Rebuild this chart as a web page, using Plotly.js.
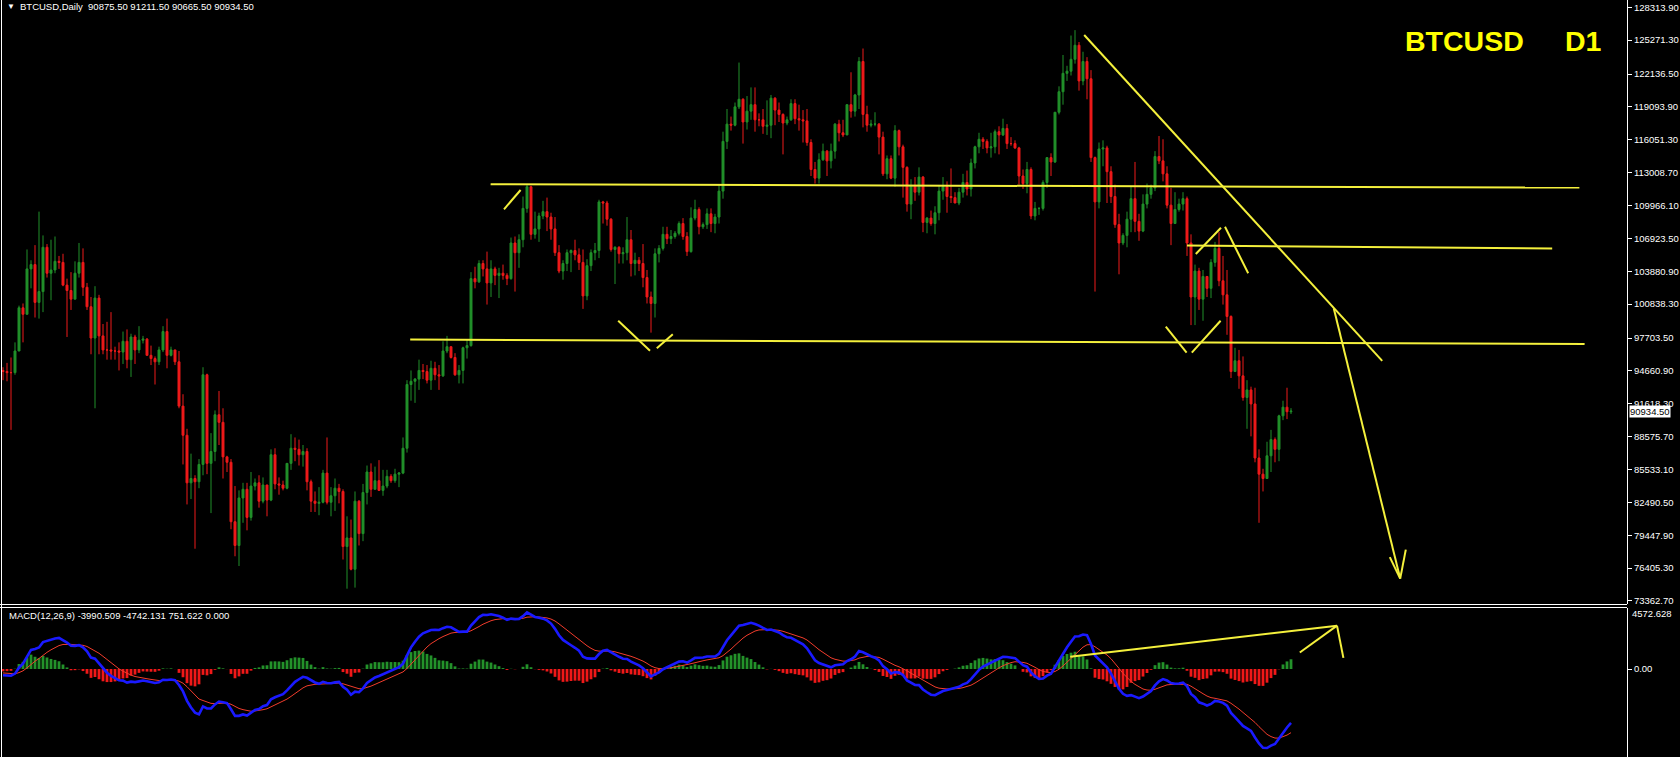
<!DOCTYPE html>
<html><head><meta charset="utf-8">
<script src="https://cdn.plot.ly/plotly-3.0.1.min.js"></script>
<style>html,body{margin:0;padding:0;background:#000;overflow:hidden}#chart{width:1680px;height:757px}</style>
</head><body><div id="chart"></div>
<script>
// ---------------- DATA (BTCUSD, Daily) ----------------
const symbol = 'BTCUSD';
const timeframe = 'D1';
const firstDay = Date.UTC(2025, 0, 11);   // first candle on the chart

const open = [
 94700,94600,94500,94500,96500,100500,99900,104100,104500,101000,102000,106100,103700,104000,104800,104700,102600,102100,101300,103700,104700,
 102400,100600,97700,101400,97900,96600,96600,96500,96500,96400,97400,95700,97800,96600,97500,97600,96100,95800,95500,96600,98300,96100,96600,95500,91400,88700,84300,84700,
 84400,86000,94300,86100,87200,90600,89900,86700,86200,80700,78500,82900,83700,81100,84000,84300,82600,84100,82700,86900,84200,84100,83800,86100,87500,87400,86900,87200,84400,82600,82400,
 82500,85200,82500,83100,83800,83500,78400,79200,76300,82600,79600,83400,85300,83700,84500,83600,84000,84900,84500,85100,85200,87500,93400,93700,93900,94700,94600,93800,94900,94300,
 94200,96500,96900,95900,94300,94700,96800,97000,103200,102900,104600,104100,102800,104100,103500,103700,103500,103200,106500,105600,106800,109700,111700,107300,107800,109000,109400,108900,107800,105600,103900,
 104600,105600,105800,105400,104700,101600,104400,105600,105800,110300,110200,108700,105900,106100,105500,105600,106800,104600,104900,104600,103300,101500,100900,105500,106000,107300,106900,107100,107400,108300,
 107100,105700,108800,109600,108000,108200,109200,108300,108900,111300,115900,117500,117400,119100,119800,117700,118700,119300,117900,117900,117300,117400,119900,118800,118400,117600,117900,119400,118000,117900,117800,
 115800,113300,112500,114200,115000,114100,115000,117500,116700,116500,119300,118700,120200,123300,118400,117400,117500,117500,116300,112900,114300,112500,116900,115400,113500,110100,111800,111200,112600,108400,108800,
 108300,109300,111300,111700,110800,110700,110200,111200,112100,111500,113900,115400,116100,115900,115300,115400,116800,116500,117100,115700,115700,115300,112700,112000,113300,109000,109700,109700,112100,114400,
 114000,118600,120500,122200,122400,123500,124800,121500,123300,121700,114400,110300,115200,115300,113100,110800,108200,106500,107200,108700,110600,108500,107600,110100,111000,111600,114500,114100,112900,110000,108300,
 109600,110100,110600,106500,101500,103900,101300,103400,102300,104700,106000,103000,101700,99700,94600,95600,94200,92200,92900,91600,86600,85100,84700,86800,88300,87400,90500,91300,90875.5
];
const high = [
 95000,95400,95900,97300,100700,100900,105900,104900,106300,109400,107200,106400,106800,107100,105300,105500,103200,103800,104800,106500,106000,
 102800,101500,102500,101700,99000,99200,100100,96900,97300,98300,98500,98100,98000,98800,97900,97700,97000,96000,96900,98800,99500,96900,96600,96500,92500,89300,87000,85000,
 86500,95000,94400,88900,91000,92800,91200,86800,86500,84000,83600,84300,84300,85300,84700,85000,84800,84100,87400,87500,84800,84500,86100,88800,88500,88300,87800,87500,84600,83500,83900,
 85500,88500,83900,84700,84200,83700,81200,80900,83500,82700,84200,85900,86100,85800,86400,85500,85500,85100,85600,85300,88500,93800,94700,94000,95700,95300,95200,95600,95500,95200,
 97400,97900,96900,96300,95200,96900,97600,103800,104300,104900,104900,105700,104900,104300,104200,104500,103700,107000,107100,107300,110800,111900,111800,109400,109300,110400,110700,109300,108900,106300,104900,
 105900,105900,106800,106000,105900,105000,105900,106500,110500,110400,110400,108800,106200,106200,106100,108900,107700,105600,105200,106400,104000,102000,106000,106300,108000,108000,107700,107600,108500,108800,
 107500,109800,110500,109800,108400,109700,109700,109200,111900,116800,118900,118200,119500,123200,119900,120100,120900,120900,118500,118900,119700,120200,120000,119500,118500,118200,119800,119800,119300,118800,118900,
 116100,114000,114800,115700,115100,115700,117600,117900,117900,119300,122300,120300,123700,124500,119200,117900,118600,117600,116800,114600,114600,117400,117000,115600,113600,112400,112600,113500,112700,108900,109500,
 109900,111800,112600,112200,113400,111200,111600,112900,113200,114300,115500,116700,116300,116100,116700,117000,117300,118000,117500,116300,116000,115400,113300,114000,113500,110300,109800,112300,114400,114800,
 118600,121000,123900,122900,125700,126200,125100,124200,123700,122500,114500,115800,116000,115500,113600,111900,109200,107400,109400,111700,114000,109200,111000,112000,111900,115000,116400,116100,113600,111600,111200,
 110600,111200,110800,107300,104500,104200,104000,103400,105000,106600,107500,105300,104000,99800,96800,96600,96000,93800,93200,93100,87400,85600,88100,89200,88500,90600,91900,93100,91211.5
];
const low = [
 93800,93700,89200,94300,96500,97300,99900,102300,99600,99500,100100,103300,101200,103700,104100,102500,97800,100300,101300,103300,101600,
 100300,96200,91200,96200,96200,95700,95700,95700,94700,95300,94900,94100,95300,96300,97200,96100,95200,93400,95200,96400,94900,96000,95200,91200,86000,82300,82800,78200,
 83800,85000,85100,81500,86300,87800,84700,85300,80000,77500,76600,80600,79900,80800,83600,82000,82400,81200,82600,83700,83200,83600,83700,85500,86300,85900,85800,83600,81600,81600,81300,
 82400,82300,81200,81700,82400,77200,74500,76200,74600,78500,78900,82300,83000,83700,83600,83100,83800,84300,84300,83900,85100,87100,91900,91700,92900,93900,93500,92900,93800,92900,
 94100,96300,95800,94200,93500,93500,95800,96900,102300,102800,103400,100800,101500,102600,101400,103100,102600,103100,102000,104200,106100,109300,106800,106900,106600,108700,107600,106800,105300,103700,103100,
 103900,103800,104900,104000,100400,101200,103900,104900,105100,108300,108100,105700,102700,104600,104600,104900,103400,103500,103900,102400,100900,98200,99600,104700,105800,106400,106400,106900,107200,106800,
 105300,105600,108600,107300,107800,107800,107500,107400,108300,110600,115200,116900,117300,118900,115700,117000,117900,116800,117300,116600,116500,116200,117400,117700,114700,117400,117800,117500,116900,115800,115500,
 112700,112000,112000,114100,112700,113400,114300,115900,116300,116500,118100,118200,118900,117200,116800,117200,117300,114700,112700,112400,112400,111700,114600,110700,109400,108700,110400,110900,107500,107400,108100,
 107300,108600,110500,109300,110200,110200,110000,110700,110900,110800,113400,114800,115200,114800,114400,114800,114700,116400,115200,115500,115200,111900,111500,111100,108700,108600,109100,109500,111600,112700,
 113900,118400,119300,121500,122000,123100,120600,121100,119800,114000,102000,109700,113600,110200,110200,107900,103600,106300,106100,107500,107500,106700,107500,109700,110600,111300,113800,112200,109700,106300,108300,
 109400,109500,105300,98900,98900,100300,99300,101500,101400,104300,102500,100800,98000,94000,94600,93000,91900,89300,88600,86200,80600,83500,84700,85300,86200,86300,90100,90200,90665.5
];
const close = [
 94600,94500,94500,96500,100500,99900,104100,104500,101000,102000,106100,103700,104000,104800,104700,102600,102100,101300,103700,104700,102400,
 100600,97700,101400,97900,96600,96600,96500,96500,96400,97400,95700,97800,96600,97500,97600,96100,95800,95500,96600,98300,96100,96600,95500,91400,88700,84300,84700,84400,
 86000,94300,86100,87200,90600,89900,86700,86200,80700,78500,82900,83700,81100,84000,84300,82600,84100,82700,86900,84200,84100,83800,86100,87500,87400,86900,87200,84400,82600,82400,82500,
 85200,82500,83100,83800,83500,78400,79200,76300,82600,79600,83400,85300,83700,84500,83600,84000,84900,84500,85100,85200,87500,93400,93700,93900,94700,94600,93800,94900,94300,94200,
 96500,96900,95900,94300,94700,96800,97000,103200,102900,104600,104100,102800,104100,103500,103700,103500,103200,106500,105600,106800,109700,111700,107300,107800,109000,109400,108900,107800,105600,103900,104600,
 105600,105800,105400,104700,101600,104400,105600,105800,110300,110200,108700,105900,106100,105500,105600,106800,104600,104900,104600,103300,101500,100900,105500,106000,107300,106900,107100,107400,108300,107100,
 105700,108800,109600,108000,108200,109200,108300,108900,111300,115900,117500,117400,119100,119800,117700,118700,119300,117900,117900,117300,117400,119900,118800,118400,117600,117900,119400,118000,117900,117800,115800,
 113300,112500,114200,115000,114100,115000,117500,116700,116500,119300,118700,120200,123300,118400,117400,117500,117500,116300,112900,114300,112500,116900,115400,113500,110100,111800,111200,112600,108400,108800,108300,
 109300,111300,111700,110800,110700,110200,111200,112100,111500,113900,115400,116100,115900,115300,115400,116800,116500,117100,115700,115700,115300,112700,112000,113300,109000,109700,109700,112100,114400,114000,
 118600,120500,122200,122400,123500,124800,121500,123300,121700,114400,110300,115200,115300,113100,110800,108200,106500,107200,108700,110600,108500,107600,110100,111000,111600,114500,114100,112900,110000,108300,109600,
 110100,110600,106500,101500,103900,101300,103400,102300,104700,106000,103000,101700,99700,94600,95600,94200,92200,92900,91600,86600,85100,84700,86800,88300,87400,90500,91300,90880,90934.5
];

// right price scale labels
const priceTicks = [128313.90,125271.30,122136.50,119093.90,116051.30,113008.70,109966.10,106923.50,103880.90,100838.30,97703.50,94660.90,91618.30,88575.70,85533.10,82490.50,79447.90,76405.30,73362.70];
const macdTopLabel = 4572.628;
const macdParams = {fast: 12, slow: 26, signal: 9};
// indicator readout printed in the sub-window header (main, signal, histogram, level)
const macdReadout = [-3990.509, -4742.131, 751.622, 0.000];
// indicator state at the first visible bar
const macdStart = {fastEma: 95300, slowEma: 95750, signal: -250};

// hand drawn objects: [bar index, price]
const priceDrawings = [
  [[121.9,111930],[394.1,111630]],
  [[101.8,97557],[395.4,97158]],
  [[296.0,106275],[387.3,105979]],
  [[270.3,125750],[344.8,95590]],
  [[332.7,100425],[349.3,75434]],
  [[346.7,77426],[349.3,75434]],
  [[350.7,78119],[349.3,75434]],
  [[125.25,109617],[129.4,111403]],
  [[153.8,99305],[161.75,96528]],
  [[163.45,96759],[167.45,98046]],
  [[290.7,98751],[295.9,96344]],
  [[297.2,96344],[304.4,99305]],
  [[298.2,105479],[304.5,107913]],
  [[305.5,108006],[311.3,103692]]
];
const macdDrawings = [
  [[266.8,915],[333.5,3248]],
  [[324.2,1238],[333.5,3248]],
  [[333.5,3248],[335.1,833]]
];

// ---------------- BUILD ----------------
const n = close.length;
if (open.length !== n || high.length !== n || low.length !== n) {
  throw new Error('length mismatch ' + [open.length, high.length, low.length, close.length].join(','));
}
const dayAt = f => new Date(firstDay + f * 864e5).toISOString().replace('T', ' ').replace('Z', '');
const days = close.map((_, i) => dayAt(i).slice(0, 10));

function ema(src, len, seed) { const k = 2 / (len + 1); let e = seed; return src.map(v => (e = e + k * (v - e))); }
const fastE = ema(close, macdParams.fast, macdStart.fastEma);
const slowE = ema(close, macdParams.slow, macdStart.slowEma);
const macdMain = fastE.map((v, i) => v - slowE[i]);
const macdSignal = ema(macdMain, macdParams.signal, macdStart.signal);
const macdHist = macdMain.map((v, i) => v - macdSignal[i]);

const W = 1680, H = 757, L = 2, R = 53;
const pw = W - L - R;
const px = x => (x - L) / pw;
const py = y => 1 - y / H;
const FONT = 'Liberation Sans, Arial, sans-serif';
const YEL = '#f4f03c';

const traces = [
  {
    type: 'candlestick', x: days, open: open, high: high, low: low, close: close,
    xaxis: 'x', yaxis: 'y', whiskerwidth: 0, hoverinfo: 'skip', showlegend: false,
    increasing: {line: {color: '#21902a', width: 1}, fillcolor: '#21902a'},
    decreasing: {line: {color: '#ee1a1a', width: 1}, fillcolor: '#ee1a1a'}
  },
  {
    type: 'bar', x: days, y: macdHist, xaxis: 'x', yaxis: 'y2', hoverinfo: 'skip', showlegend: false,
    marker: {color: macdHist.map(v => v >= 0 ? '#23922a' : '#f01818'), line: {width: 0}}
  },
  {
    type: 'scatter', mode: 'lines', x: days, y: macdSignal, xaxis: 'x', yaxis: 'y2', hoverinfo: 'skip', showlegend: false,
    line: {color: '#f23c2c', width: 1}
  },
  {
    type: 'scatter', mode: 'lines', x: days, y: macdMain, xaxis: 'x', yaxis: 'y2', hoverinfo: 'skip', showlegend: false,
    line: {color: '#1a1aff', width: 2.6}
  }
];

const shapes = [];
priceDrawings.forEach(seg => shapes.push({type: 'line', xref: 'x', yref: 'y',
  x0: dayAt(seg[0][0]), y0: seg[0][1], x1: dayAt(seg[1][0]), y1: seg[1][1], line: {color: YEL, width: 2}}));
macdDrawings.forEach(seg => shapes.push({type: 'line', xref: 'x', yref: 'y2',
  x0: dayAt(seg[0][0]), y0: seg[0][1], x1: dayAt(seg[1][0]), y1: seg[1][1], line: {color: YEL, width: 2}}));
// window frame
shapes.push({type: 'line', xref: 'paper', yref: 'paper', x0: px(0), x1: 1, y0: py(604.5), y1: py(604.5), line: {color: '#ffffff', width: 1}});
shapes.push({type: 'line', xref: 'paper', yref: 'paper', x0: px(0), x1: 1, y0: py(607.5), y1: py(607.5), line: {color: '#ffffff', width: 1}});
shapes.push({type: 'line', xref: 'paper', yref: 'paper', x0: px(1.5), x1: px(1.5), y0: 0, y1: 1, line: {color: '#ffffff', width: 1}});

const lastClose = close[n - 1];
const annotations = [
  {xref: 'paper', yref: 'paper', x: px(5), y: py(7), xanchor: 'left', yanchor: 'middle', showarrow: false,
   text: '▼', font: {family: FONT, size: 8, color: '#ffffff'}},
  {xref: 'paper', yref: 'paper', x: px(18), y: py(7), xanchor: 'left', yanchor: 'middle', showarrow: false,
   text: symbol + ',Daily  ' + [open[n-1], high[n-1], low[n-1], close[n-1]].map(v => v.toFixed(2)).join(' '),
   font: {family: FONT, size: 9.5, color: '#ffffff'}},
  {xref: 'paper', yref: 'paper', x: px(7), y: py(615), xanchor: 'left', yanchor: 'middle', showarrow: false,
   text: 'MACD(' + macdParams.fast + ',' + macdParams.slow + ',' + macdParams.signal + ') ' +
         macdReadout.map(v => v.toFixed(3)).join(' '),
   font: {family: FONT, size: 9.5, color: '#ffffff'}},
  {xref: 'paper', yref: 'paper', x: px(1403), y: py(41), xanchor: 'left', yanchor: 'middle', showarrow: false,
   text: '<b>' + symbol + '</b>', font: {family: FONT, size: 28.5, color: '#ffff00'}},
  {xref: 'paper', yref: 'paper', x: px(1563), y: py(41), xanchor: 'left', yanchor: 'middle', showarrow: false,
   text: '<b>' + timeframe + '</b>', font: {family: FONT, size: 28.5, color: '#ffff00'}},
  {xref: 'paper', yref: 'y', x: px(1629), y: lastClose, xanchor: 'left', yanchor: 'middle', showarrow: false,
   text: lastClose.toFixed(2), bgcolor: '#ffffff', borderpad: 0, font: {family: FONT, size: 9.5, color: '#000000'}},
  {xref: 'paper', yref: 'paper', x: px(1630), y: py(613), xanchor: 'left', yanchor: 'middle', showarrow: false,
   text: macdTopLabel.toFixed(3), font: {family: FONT, size: 9.5, color: '#ffffff'}}
];

const pTop = 128313.9 + 7.3 * 92.56, pBot = 128313.9 - 596.7 * 92.56;
const mScale = macdTopLabel / (669 - 608);
const layout = {
  width: W, height: H, margin: {l: L, r: R, t: 0, b: 0, pad: 0},
  paper_bgcolor: '#000000', plot_bgcolor: '#000000',
  showlegend: false, hovermode: false, dragmode: false,
  bargap: 0.3, boxgap: 0.3,
  xaxis: {type: 'date', range: [dayAt(-0.25), dayAt(406)], showticklabels: false, ticks: '', showgrid: false,
          zeroline: false, showline: false, rangeslider: {visible: false}, fixedrange: true},
  yaxis: {domain: [py(604), 1], range: [pBot, pTop], side: 'right', anchor: 'x',
          tickvals: priceTicks, ticktext: priceTicks.map(v => v.toFixed(2)),
          ticks: 'outside', ticklen: 4, tickcolor: '#ffffff', tickwidth: 1,
          showline: true, linecolor: '#ffffff', linewidth: 1, showgrid: false, zeroline: false,
          tickfont: {family: FONT, size: 9.5, color: '#ffffff'}, fixedrange: true},
  yaxis2: {domain: [0, py(608)], range: [-(H - 669) * mScale, macdTopLabel], side: 'right', anchor: 'x',
           tickvals: [0], ticktext: ['0.00'], ticks: 'outside', ticklen: 4, tickcolor: '#ffffff',
           showline: true, linecolor: '#ffffff', linewidth: 1, showgrid: false, zeroline: false,
           tickfont: {family: FONT, size: 9.5, color: '#ffffff'}, fixedrange: true},
  shapes: shapes, annotations: annotations
};

Plotly.newPlot('chart', traces, layout, {displayModeBar: false, staticPlot: true});
</script></body></html>
